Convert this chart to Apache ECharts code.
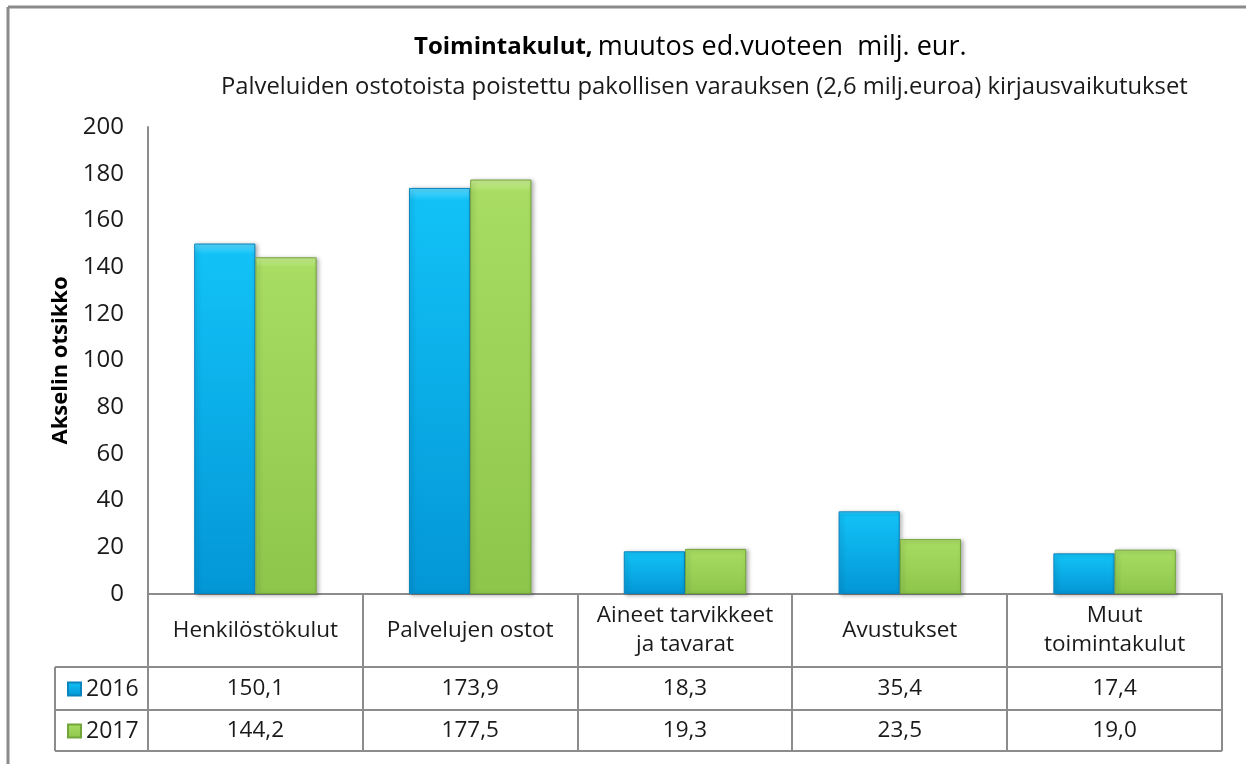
<!DOCTYPE html>
<html>
<head>
<meta charset="utf-8">
<script src="https://cdn.jsdelivr.net/npm/echarts@6/dist/echarts.min.js"></script>
<style>
  html, body { margin: 0; padding: 0; background: #fff; }
  #main { width: 1246px; height: 764px; }
</style>
</head>
<body>
<div id="main"></div>
<script>
// data
var categories = ['Henkilöstökulut', 'Palvelujen ostot', 'Aineet tarvikkeet\nja tavarat', 'Avustukset', 'Muut\ntoimintakulut'];
var seriesNames = ['2016', '2017'];
var values2016 = [150.1, 173.9, 18.3, 35.4, 17.4];
var values2017 = [144.2, 177.5, 19.3, 23.5, 19.0];
var yTicks = [0, 20, 40, 60, 80, 100, 120, 140, 160, 180, 200];

var FONT = '"Open Sans", sans-serif';
var LINE = '#8c8c8c';
var TXT = '#1a1a1a';

// layout of the plot / table
var gLeft = 148, gRight = 1222, gTop = 127, gBottom = 594;
var rowY = [594, 667, 710, 751];
var legendLeft = 55;

function fmt(v) {
  return v.toFixed(1).replace('.', ',');
}

var blueFill = new echarts.graphic.LinearGradient(0, 0, 0, 1, [
  {offset: 0, color: '#5ad8ff'},
  {offset: 0.03, color: '#12c2f7'},
  {offset: 1, color: '#0396d6'}
]);
var greenFill = new echarts.graphic.LinearGradient(0, 0, 0, 1, [
  {offset: 0, color: '#c8ee92'},
  {offset: 0.03, color: '#a8dc62'},
  {offset: 1, color: '#8dc64b'}
]);

// table borders + outer frame
function tableLines() {
  var els = [];
  var colW = (gRight - gLeft) / categories.length;
  var style = {stroke: LINE, lineWidth: 2};
  for (var i = 0; i <= categories.length; i++) {
    var x = Math.round(gLeft + i * colW);
    els.push({type: 'line', shape: {x1: x, y1: rowY[0], x2: x, y2: rowY[3]}, style: style});
  }
  for (var r = 1; r < rowY.length; r++) {
    els.push({type: 'line', shape: {x1: legendLeft, y1: rowY[r], x2: gRight, y2: rowY[r]}, style: style});
  }
  els.push({type: 'line', shape: {x1: legendLeft, y1: rowY[1], x2: legendLeft, y2: rowY[3]}, style: style});
  els.push({type: 'line', shape: {x1: 8, y1: 7, x2: 1246, y2: 7}, style: {stroke: '#8a8a8a', lineWidth: 3}});
  els.push({type: 'line', shape: {x1: 8, y1: 7, x2: 8, y2: 764}, style: {stroke: '#8a8a8a', lineWidth: 3}});
  return els;
}

var rowMid1 = (rowY[1] + rowY[2]) / 2 - gBottom;
var rowMid2 = (rowY[2] + rowY[3]) / 2 - gBottom;

var myChart = echarts.init(document.getElementById('main'));
var option = {
  backgroundColor: '#fff',
  animation: false,
  title: [
    {
      text: '{b|Toimintakulut,} {n|muutos ed.vuoteen  milj. eur.}',
      left: 409, top: 29,
      textStyle: {
        rich: {
          b: {fontFamily: FONT, fontSize: 24, fontWeight: 'bold', color: '#000'},
          n: {fontFamily: FONT, fontSize: 27, fontWeight: 'normal', color: '#000'}
        }
      }
    },
    {
      text: 'Palveluiden ostotoista poistettu pakollisen varauksen (2,6 milj.euroa) kirjausvaikutukset',
      left: 216, top: 70,
      textStyle: {fontFamily: FONT, fontSize: 23.8, fontWeight: 'normal', color: TXT}
    }
  ],
  legend: {
    orient: 'vertical',
    left: 62, top: 671,
    icon: 'rect',
    itemWidth: 13, itemHeight: 13,
    itemGap: 16,
    textStyle: {fontFamily: FONT, fontSize: 23, color: TXT, lineHeight: 26},
    data: seriesNames
  },
  grid: {left: gLeft, right: 1246 - gRight, top: gTop, bottom: 764 - gBottom},
  xAxis: [
    {
      type: 'category',
      data: categories,
      axisLine: {show: true, lineStyle: {color: LINE, width: 2}},
      axisTick: {show: false},
      axisLabel: {
        interval: 0, margin: (rowY[1] - rowY[0]) / 2, verticalAlign: 'middle', align: 'center',
        fontFamily: FONT, fontSize: 22.5, color: TXT, lineHeight: 29
      }
    },
    {
      type: 'category', position: 'bottom',
      data: categories,
      axisLine: {show: false}, axisTick: {show: false},
      axisLabel: {
        interval: 0, margin: rowMid1, verticalAlign: 'middle',
        fontFamily: FONT, fontSize: 22.5, color: TXT,
        formatter: function (v, i) { return fmt(values2016[i]); }
      }
    },
    {
      type: 'category', position: 'bottom',
      data: categories,
      axisLine: {show: false}, axisTick: {show: false},
      axisLabel: {
        interval: 0, margin: rowMid2, verticalAlign: 'middle',
        fontFamily: FONT, fontSize: 22.5, color: TXT,
        formatter: function (v, i) { return fmt(values2017[i]); }
      }
    }
  ],
  yAxis: {
    type: 'value',
    min: yTicks[0], max: yTicks[yTicks.length - 1], interval: yTicks[1] - yTicks[0],
    name: 'Akselin otsikko',
    nameLocation: 'middle',
    nameGap: 75,
    nameTextStyle: {fontFamily: FONT, fontSize: 22, fontWeight: 'bold', color: '#000'},
    axisLine: {show: true, lineStyle: {color: LINE, width: 2}},
    axisTick: {show: false},
    splitLine: {show: false},
    axisLabel: {margin: 24, fontFamily: FONT, fontSize: 24, color: TXT}
  },
  series: [
    {
      name: seriesNames[0], type: 'bar', data: values2016,
      barGap: 0, barCategoryGap: '43%',
      itemStyle: {
        color: blueFill, borderColor: '#0a84bd', borderWidth: 1,
        shadowBlur: 4, shadowColor: 'rgba(0,0,0,0.3)', shadowOffsetX: 2, shadowOffsetY: 1
      }
    },
    {
      name: seriesNames[1], type: 'bar', data: values2017,
      barGap: 0, barCategoryGap: '43%',
      itemStyle: {
        color: greenFill, borderColor: '#73a63a', borderWidth: 1,
        shadowBlur: 4, shadowColor: 'rgba(0,0,0,0.3)', shadowOffsetX: 2, shadowOffsetY: 1
      }
    }
  ],
  graphic: tableLines()
};
myChart.setOption(option);
window.onresize = myChart.resize;
</script>
</body>
</html>
